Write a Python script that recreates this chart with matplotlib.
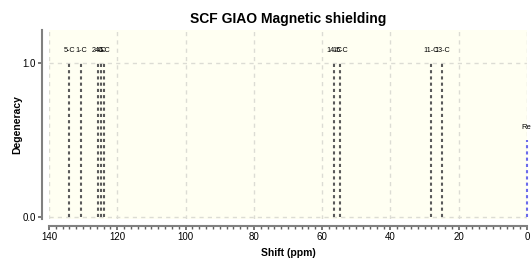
import matplotlib
matplotlib.use("Agg")
import matplotlib.pyplot as plt
from matplotlib.ticker import MultipleLocator

plt.rcParams["font.family"] = ["Liberation Sans", "DejaVu Sans"]

shifts = [134.1, 130.6, 125.7, 124.8, 123.8, 56.5, 54.8, 28.1, 24.9]
degeneracy = [1.0, 1.0, 1.0, 1.0, 1.0, 1.0, 1.0, 1.0, 1.0]
labels = ["5-C", "1-C", "2-C", "4-C", "6-C", "14-C", "15-C", "11-C", "13-C"]
ref_shift = 0.0
ref_height = 0.5
ref_label = "Ref"

W, H = 531, 258
fig = plt.figure(figsize=(W / 100, H / 100), dpi=100)
ax = fig.add_axes([49 / W, 1 - 219 / H, (527 - 49) / W, (219 - 30) / H])
ax.set_facecolor("#fffff2")

ax.set_xlim(140, 0)
ax.set_ylim(-0.013, 1.214)

for s, d, lab in zip(shifts, degeneracy, labels):
    ax.plot([s, s], [0, d], color="#5a5a5a", lw=1.5, linestyle=(0, (1.5, 1.5)),
            dash_capstyle="butt", zorder=3)
    ax.text(s, d + 0.08, lab, ha="center", va="center", fontsize=5.2,
            color="black", zorder=4)

ax.plot([ref_shift, ref_shift], [0, ref_height], color="#6b6bec", lw=1.5,
        linestyle=(0, (1.5, 1.5)), dash_capstyle="butt", zorder=3, clip_on=False)
ax.text(ref_shift, ref_height + 0.08, ref_label, ha="center", va="center",
        fontsize=5.5, color="black", clip_on=False)

ax.xaxis.set_major_locator(MultipleLocator(20))
ax.xaxis.set_minor_locator(MultipleLocator(2))
ax.set_yticks([0.0, 1.0])
ax.set_yticklabels(["0.0", "1.0"])

ax.grid(True, which="major", color="#dcdcd4", linestyle=(0, (3, 3)), lw=1)
ax.set_axisbelow(True)

for side in ["top", "right"]:
    ax.spines[side].set_visible(False)
for side in ["left", "bottom"]:
    ax.spines[side].set_position(("outward", 5))
    ax.spines[side].set_color("#808080")
    ax.spines[side].set_linewidth(1.5)

ax.tick_params(axis="both", which="major", direction="out", length=3, width=1.2,
               color="#606060", labelsize=7, pad=1.5)
ax.tick_params(axis="x", which="minor", direction="out", length=2.5, width=1,
               color="#606060")

ax.set_xlabel("Shift (ppm)", fontsize=7.5, fontweight="bold", labelpad=4)
ax.set_ylabel("Degeneracy", fontsize=7.5, fontweight="bold", labelpad=0)
ax.set_title("SCF GIAO Magnetic shielding", fontsize=10, fontweight="bold", pad=5)

fig.savefig("out.png", dpi=100)
